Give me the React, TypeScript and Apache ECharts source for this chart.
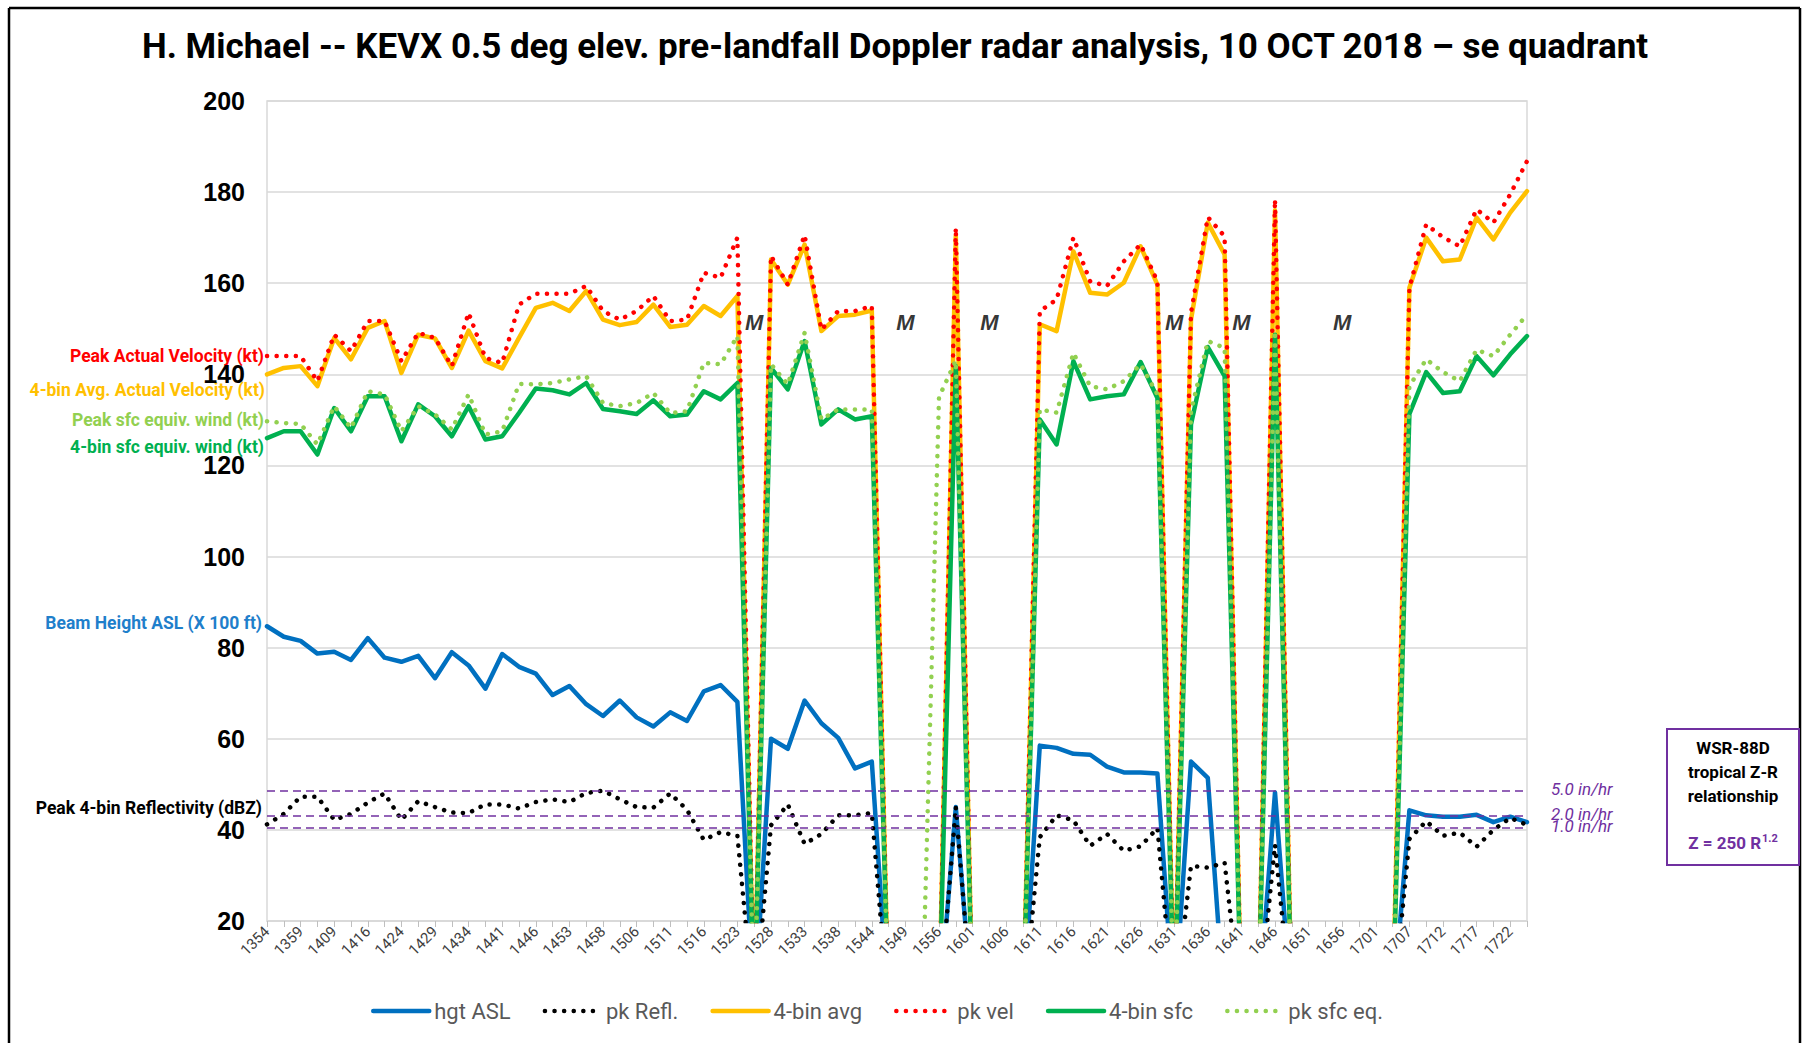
import React, { useEffect, useRef } from "react";
import * as echarts from "echarts";

const categories = [
  "1354", "1356", "1359", "1404", "1409", "1412", "1416", "1420", "1424", "1426",
  "1429", "1431", "1434", "1437", "1441", "1443", "1446", "1449", "1453", "1455",
  "1458", "1502", "1506", "1508", "1511", "1513", "1516", "1519", "1523", "1525",
  "1528", "1530", "1533", "1535", "1538", "1541", "1544", "1546", "1549", "1552",
  "1556", "1558", "1601", "1603", "1606", "1608", "1611", "1613", "1616", "1618",
  "1621", "1623", "1626", "1628", "1631", "1633", "1636", "1638", "1641", "1643",
  "1646", "1648", "1651", "1653", "1656", "1658", "1701", "1704", "1707", "1709",
  "1712", "1714", "1717", "1719", "1722", "1725",
];

// Beam height ASL (x 100 ft)
const hgtASL = [
  84.7, 82.4, 81.5, 78.7, 79.1, 77.3, 82.1, 77.8, 76.9, 78.2,
  73.3, 79.0, 76.1, 71.0, 78.6, 75.8, 74.3, 69.6, 71.6, 67.6,
  65.0, 68.4, 64.7, 62.7, 65.8, 63.9, 70.4, 71.8, 68.1, 0,
  60.0, 57.8, 68.4, 63.4, 60.2, 53.5, 55.0, 0, 0, 0,
  0, 45.0, 0, 0, 0, 0, 58.5, 58.0, 56.7, 56.5,
  53.9, 52.6, 52.6, 52.4, 0, 55.0, 51.4, 0, 0, 0,
  48.2, 0, 0, 0, 0, 0, 0, 0, 44.3, 43.2,
  42.9, 42.9, 43.3, 41.7, 42.9, 41.7,
];

// Peak 4-bin reflectivity (dBZ)
const pkRefl = [
  41.2, 43.5, 47.3, 47.3, 42.2, 43.5, 46.0, 48.0, 42.2, 46.3,
  45.0, 43.8, 43.7, 45.6, 45.6, 44.7, 46.1, 46.7, 46.1, 48.1,
  48.6, 46.7, 45.0, 44.9, 48.0, 44.4, 37.8, 39.5, 38.7, 0,
  41.0, 45.6, 36.9, 39.1, 43.2, 43.2, 43.7, 0, 0, 0,
  0, 45.0, 0, 0, 0, 0, 38.4, 43.2, 42.1, 36.5,
  39.1, 35.4, 36.4, 40.4, 0, 32.1, 31.7, 32.8, 0, 0,
  36.7, 0, 0, 0, 0, 0, 0, 0, 38.0, 41.9,
  38.7, 39.4, 36.3, 40.0, 42.6, 41.1,
];

// 4-bin avg actual velocity (kt)
const avg4bin = [
  140.0, 141.4, 141.8, 137.4, 148.0, 143.3, 150.2, 151.7, 140.3, 148.7,
  147.9, 141.4, 149.6, 142.9, 141.3, 148.0, 154.6, 155.7, 153.9, 158.3,
  152.0, 150.8, 151.5, 155.3, 150.4, 150.9, 155.0, 152.8, 157.2, 0,
  165.2, 159.7, 168.5, 149.5, 152.8, 153.1, 154.0, 0, 0, 0,
  0, 170.5, 0, 0, 0, 0, 151.0, 149.5, 167.0, 157.9,
  157.5, 160.1, 168.1, 159.7, 0, 152.0, 173.3, 166.3, 0, 0,
  176.0, 0, 0, 0, 0, 0, 0, 0, 159.0, 170.0,
  164.8, 165.2, 174.4, 169.6, 175.5, 180.2,
];

// Peak actual velocity (kt)
const pkVel = [
  144.0, 144.0, 144.0, 138.5, 148.7, 145.1, 151.7, 151.7, 142.9, 149.1,
  148.0, 141.8, 153.5, 143.6, 142.5, 155.3, 157.7, 157.7, 157.7, 159.4,
  153.9, 152.0, 153.9, 157.2, 151.7, 152.0, 162.3, 161.2, 170.0, 0,
  166.0, 159.7, 170.6, 149.8, 153.9, 153.9, 155.0, 0, 0, 0,
  0, 172.2, 0, 0, 0, 0, 153.9, 156.4, 170.0, 160.4,
  159.4, 164.8, 168.5, 160.4, 0, 153.5, 174.5, 170.3, 0, 0,
  178.4, 0, 0, 0, 0, 0, 0, 0, 159.0, 172.9,
  170.1, 168.1, 176.2, 173.3, 179.5, 186.8,
];

// 4-bin sfc equiv. wind (kt)
const sfc4bin = [
  126.0, 127.5, 127.5, 122.4, 132.6, 127.5, 135.2, 135.2, 125.3, 133.4,
  130.8, 126.4, 133.0, 125.7, 126.4, 131.5, 136.9, 136.5, 135.6, 138.1,
  132.4, 131.9, 131.3, 134.3, 130.8, 131.2, 136.3, 134.5, 138.1, 0,
  141.4, 136.7, 147.3, 129.0, 132.3, 130.1, 130.8, 0, 0, 0,
  0, 141.8, 0, 0, 0, 0, 130.1, 124.6, 142.9, 134.5,
  135.2, 135.6, 142.7, 134.8, 0, 129.0, 146.0, 139.6, 0, 0,
  148.7, 0, 0, 0, 0, 0, 0, 0, 131.3, 140.5,
  135.9, 136.3, 144.0, 139.8, 144.4, 148.4,
];

// Peak sfc equiv. wind (kt)
const pkSfcEq = [
  129.7, 129.3, 129.1, 124.6, 133.0, 128.2, 136.3, 135.6, 127.5, 133.0,
  131.2, 127.9, 135.6, 126.8, 127.5, 137.9, 137.8, 138.1, 138.9, 139.6,
  133.7, 133.0, 133.7, 135.9, 131.5, 131.9, 142.5, 142.2, 148.4, 0,
  142.2, 137.8, 149.1, 130.1, 132.3, 132.3, 132.3, 0, 0, 0,
  135.0, 143.0, 0, 0, 0, 0, 132.3, 131.6, 144.7, 137.4,
  136.7, 138.5, 142.2, 135.6, 0, 131.9, 147.3, 145.8, 0, 0,
  149.5, 0, 0, 0, 0, 0, 0, 0, 137.4, 143.3,
  140.5, 138.5, 145.4, 144.0, 148.7, 153.1,
];

// Rain-rate reference levels (dBZ) for tropical Z-R
const rateLevels = [48.6, 43.0, 40.4];
const rateLabels = ["5.0 in/hr", "2.0 in/hr", "1.0 in/hr"];

// Missing-scan markers
const missingIdx = [29, 38, 43, 54, 58, 64];
const missingLevel = 151.3;

const yTicks = { min: 20, max: 200, interval: 20 };

const seriesNames = ["hgt ASL", "pk Refl.", "4-bin avg", "pk vel", "4-bin sfc", "pk sfc eq."];

const FONT = "Roboto, 'Open Sans', sans-serif";

function solid(color: string) {
  return { color, width: 4.5, type: "solid" as const, cap: "round" as const, join: "round" as const };
}
function dotted(color: string) {
  return { color, width: 4.5, type: [0.1, 9.5], cap: "round" as const, join: "round" as const };
}

export default function App() {
  const ref = useRef<HTMLDivElement>(null);

  useEffect(() => {
    if (!ref.current) return;
    const chart = echarts.init(ref.current, undefined, { renderer: "svg" });

    const lineBase = {
      type: "line",
      symbol: "none",
      showSymbol: false,
      emphasis: { disabled: true },
      silent: true,
      clip: true,
    };

    const annot = (text: string, x: number, y: number, fill: string) => ({
      type: "text",
      x,
      y,
      style: {
        text,
        fill,
        fontFamily: FONT,
        fontSize: 17.5,
        fontWeight: "bold",
        align: "right",
        verticalAlign: "middle",
      },
    });

    const option: any = {
      animation: false,
      backgroundColor: "#ffffff",
      title: {
        text: "H. Michael -- KEVX 0.5 deg elev. pre-landfall Doppler radar analysis, 10 OCT 2018 \u2013 se quadrant",
        left: 142,
        top: 29,
        padding: 0,
        textStyle: { fontFamily: FONT, fontSize: 35, fontWeight: "bold", color: "#000000" },
      },
      legend: {
        data: seriesNames,
        left: 366,
        top: 995,
        itemWidth: 56,
        itemHeight: 14,
        itemGap: 32,
        itemStyle: { color: "rgba(0,0,0,0)", borderColor: "rgba(0,0,0,0)", borderWidth: 0 },
        lineStyle: { width: 4.5, cap: "round" },
        textStyle: { fontFamily: FONT, fontSize: 22, color: "#595959" },
        selectedMode: false,
      },
      grid: {
        left: 267,
        right: 276,
        top: 101,
        bottom: 122,
        show: true,
        borderColor: "#d9d9d9",
        borderWidth: 1.5,
        backgroundColor: "transparent",
      },
      xAxis: {
        type: "category",
        data: categories,
        boundaryGap: false,
        axisLine: { lineStyle: { color: "#d9d9d9", width: 1.5 } },
        axisTick: { show: true, interval: 0, length: 6, lineStyle: { color: "#bfbfbf" } },
        axisLabel: {
          interval: 1,
          rotate: 45,
          fontFamily: FONT,
          fontSize: 15,
          color: "#404040",
          margin: 8,
        },
        splitLine: { show: false },
      },
      yAxis: {
        type: "value",
        min: yTicks.min,
        max: yTicks.max,
        interval: yTicks.interval,
        axisLine: { show: false },
        axisTick: { show: false },
        axisLabel: {
          fontFamily: "'Liberation Sans', Arial, sans-serif",
          fontSize: 25,
          fontWeight: "bold",
          color: "#000000",
          margin: 22,
        },
        splitLine: { lineStyle: { color: "#d9d9d9", width: 1.5 } },
      },
      series: [
        {
          ...lineBase,
          name: seriesNames[0],
          data: hgtASL,
          lineStyle: solid("#0070C0"),
          itemStyle: { color: "#0070C0" },
        },
        {
          ...lineBase,
          name: seriesNames[1],
          data: pkRefl,
          lineStyle: dotted("#000000"),
          itemStyle: { color: "#000000" },
          markLine: {
            silent: true,
            symbol: ["none", "none"],
            lineStyle: { color: "#7030A0", type: [8, 5], width: 1.6 },
            label: {
              position: "end",
              distance: 24,
              fontFamily: FONT,
              fontStyle: "italic",
              fontSize: 17,
              color: "#7030A0",
              offset: [0, -2],
            },
            data: rateLevels.map((v, i) => ({ yAxis: v, label: { formatter: rateLabels[i] } })),
          },
        },
        {
          ...lineBase,
          name: seriesNames[2],
          data: avg4bin,
          lineStyle: solid("#FFC000"),
          itemStyle: { color: "#FFC000" },
        },
        {
          ...lineBase,
          name: seriesNames[3],
          data: pkVel,
          lineStyle: dotted("#FF0000"),
          itemStyle: { color: "#FF0000" },
        },
        {
          ...lineBase,
          name: seriesNames[4],
          data: sfc4bin,
          lineStyle: solid("#00B050"),
          itemStyle: { color: "#00B050" },
        },
        {
          ...lineBase,
          name: seriesNames[5],
          data: pkSfcEq,
          lineStyle: dotted("#92D050"),
          itemStyle: { color: "#92D050" },
        },
        {
          type: "scatter",
          name: "missing",
          silent: true,
          symbolSize: 0,
          data: missingIdx.map((i) => [i, missingLevel]),
          label: {
            show: true,
            position: "inside",
            formatter: "M",
            fontFamily: "'Liberation Sans', Arial, sans-serif",
            fontSize: 22,
            fontWeight: "bold",
            fontStyle: "italic",
            color: "#000000",
          },
        },
      ],
      graphic: [
        // outer frame
        { type: "line", shape: { x1: 9, y1: 8, x2: 9, y2: 1043 }, style: { stroke: "#000", lineWidth: 2.5 } },
        { type: "line", shape: { x1: 9, y1: 8, x2: 1800, y2: 8 }, style: { stroke: "#000", lineWidth: 2.5 } },
        { type: "line", shape: { x1: 1800, y1: 8, x2: 1800, y2: 1043 }, style: { stroke: "#000", lineWidth: 2.5 } },
        // series annotations on left
        annot("Peak Actual Velocity (kt)", 264, 356, "#FF0000"),
        annot("4-bin Avg. Actual Velocity (kt)", 265, 390, "#FFC000"),
        annot("Peak sfc equiv. wind (kt)", 264, 420, "#92D050"),
        annot("4-bin sfc equiv. wind (kt)", 264, 447, "#00B050"),
        annot("Beam Height ASL (X 100 ft)", 262, 623, "#1F7FCB"),
        annot("Peak 4-bin Reflectivity (dBZ)", 262, 808, "#000000"),
        // Z-R box
        {
          type: "rect",
          shape: { x: 1667, y: 729, width: 132, height: 136 },
          style: { fill: "#ffffff", stroke: "#7030A0", lineWidth: 2 },
        },
        {
          type: "text", x: 1733, y: 736,
          style: {
            text: "WSR-88D\ntropical Z-R\nrelationship",
            fill: "#000000", fontFamily: FONT, fontSize: 17, fontWeight: "bold",
            align: "center", verticalAlign: "top", lineHeight: 24,
          },
        },
        {
          type: "text", x: 1733, y: 843,
          style: {
            text: "{a|Z = 250 R}{b|1.2}",
            align: "center", verticalAlign: "middle",
            rich: {
              a: { fill: "#7030A0", fontFamily: FONT, fontSize: 17, fontWeight: "bold" },
              b: { fill: "#7030A0", fontFamily: FONT, fontSize: 11, fontWeight: "bold", padding: [0, 0, 10, 1] },
            },
          },
        },
      ],
    };

    chart.setOption(option);
    return () => {
      chart.dispose();
    };
  }, []);

  return (
    <div
      ref={ref}
      style={{ position: "fixed", left: 0, top: 0, width: 1803, height: 1043, background: "#fff" }}
    />
  );
}
